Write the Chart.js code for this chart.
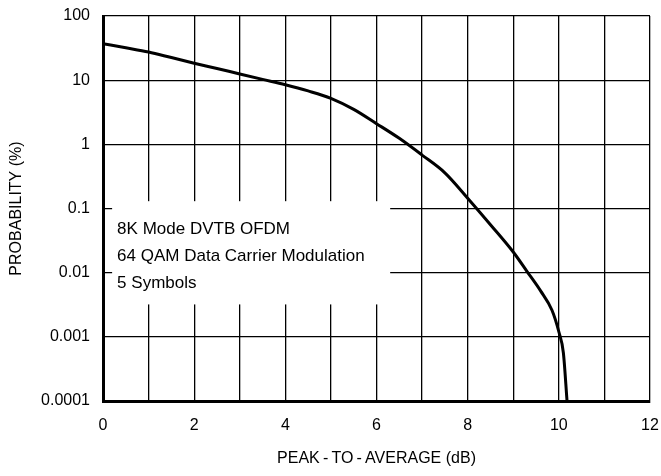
<!DOCTYPE html>
<html>
<head>
<meta charset="utf-8">
<script src="https://cdn.jsdelivr.net/npm/chart.js@4"></script>
<style>
  html, body { margin: 0; padding: 0; background: #fff; }
  #wrap { width: 661px; height: 476px; position: relative; }
</style>
</head>
<body>
<div id="wrap"><canvas id="ccdfChart"></canvas></div>
<script>
// peak-to-average ratio (dB) vs probability (%)
var peakToAvg = [0, 0.5, 1, 1.5, 2, 2.5, 3, 3.5, 4, 4.5, 5, 5.5, 6, 6.5, 7, 7.5, 8, 8.5, 9, 9.3, 9.6, 9.85, 10, 10.1, 10.18];
var probability = [37, 32, 27.5, 22.5, 18.4, 15.2, 12.5, 10.3, 8.5, 6.8, 5.2, 3.5, 2.1, 1.24, 0.68, 0.36, 0.145, 0.056, 0.021, 0.0105, 0.0052, 0.0026, 0.0012, 0.00056, 0.0001];

var xTicks = [0, 1, 2, 3, 4, 5, 6, 7, 8, 9, 10, 11, 12];
var xTickLabels = ["0", "", "2", "", "4", "", "6", "", "8", "", "10", "", "12"];
var yTicks = [0.0001, 0.001, 0.01, 0.1, 1, 10, 100];
var yTickLabels = ["0.0001", "0.001", "0.01", "0.1", "1", "10", "100"];

var noteLines = ["8K Mode DVTB OFDM", "64 QAM Data Carrier Modulation", "5 Symbols"];

var fontFamily = "'Liberation Sans', Arial, Helvetica, sans-serif";

// white note box knocked out of the grid, text on top
var notePlugin = {
  id: "noteBox",
  beforeDatasetsDraw(chart) {
    var ctx = chart.ctx;
    var xs = chart.scales.x;
    var ys = chart.scales.y;
    var left = xs.getPixelForValue(0.2);
    var right = xs.getPixelForValue(6.3);
    var top = ys.getPixelForValue(0.13);
    var bottom = ys.getPixelForValue(0.0032);
    ctx.save();
    ctx.fillStyle = "#fff";
    ctx.fillRect(left, top, right - left, bottom - top);
    ctx.fillStyle = "#000";
    ctx.font = "17px " + fontFamily;
    ctx.textBaseline = "middle";
    ctx.textAlign = "left";
    noteLines.forEach((line, i) => {
      ctx.fillText(line, left + 5, top + 28 + i * 27);
    });
    ctx.restore();
  }
};

new Chart("ccdfChart", {
  type: "line",
  data: {
    datasets: [{
      data: peakToAvg.map((x, i) => ({ x: x, y: probability[i] })),
      borderColor: "#000",
      borderWidth: 3,
      pointRadius: 0,
      fill: false,
      cubicInterpolationMode: "monotone"
    }]
  },
  options: {
    responsive: true,
    maintainAspectRatio: false,
    animation: false,
    layout: { padding: { top: 16, right: 11, left: 0, bottom: 0 } },
    plugins: {
      legend: { display: false },
      tooltip: { enabled: false }
    },
    scales: {
      x: {
        type: "linear",
        min: 0,
        max: 12,
        afterBuildTicks: scale => { scale.ticks = xTicks.map(v => ({ value: v })); },
        afterFit: scale => {
          scale.height = 75;
          scale.paddingLeft = 0;
          scale.paddingRight = 0;
        },
        grid: { color: "#000", lineWidth: 1.3, drawTicks: false },
        border: { color: "#000", width: 3 },
        ticks: {
          color: "#000",
          padding: 15,
          maxRotation: 0,
          autoSkip: false,
          font: { family: fontFamily, size: 16 },
          callback: (v, i) => xTickLabels[i]
        },
        title: {
          display: true,
          text: "PEAK\u2009-\u2009TO\u2009-\u2009AVERAGE (dB)",
          color: "#000",
          font: { family: fontFamily, size: 16 },
          padding: { top: 8, bottom: 8 }
        }
      },
      y: {
        type: "logarithmic",
        min: 0.0001,
        max: 100,
        afterBuildTicks: scale => { scale.ticks = yTicks.map(v => ({ value: v })); },
        afterFit: scale => {
          scale.width = 103;
          scale.paddingTop = 0;
          scale.paddingBottom = 0;
        },
        grid: { color: "#000", lineWidth: 1.3, drawTicks: false },
        border: { color: "#000", width: 3 },
        ticks: {
          color: "#000",
          padding: 13,
          autoSkip: false,
          font: { family: fontFamily, size: 16 },
          callback: (v, i) => yTickLabels[i]
        },
        title: {
          display: true,
          text: "PROBABILITY (%)",
          color: "#000",
          font: { family: fontFamily, size: 16 },
          padding: { top: 7, bottom: 7 }
        }
      }
    }
  },
  plugins: [notePlugin]
});
</script>
</body>
</html>
